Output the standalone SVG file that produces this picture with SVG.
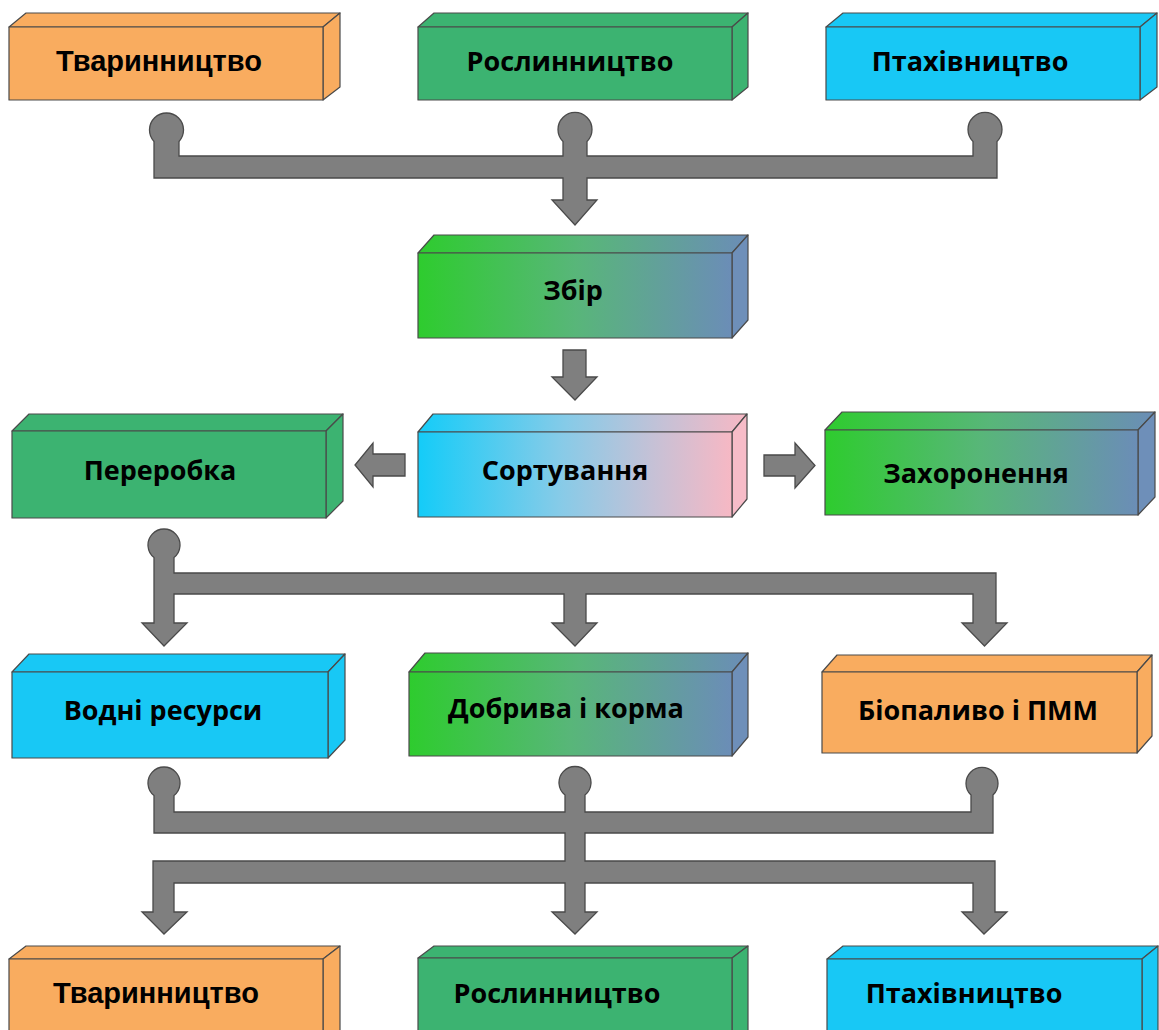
<svg xmlns="http://www.w3.org/2000/svg" width="1159" height="1030" viewBox="0 0 1159 1030">
  <defs>
    <linearGradient id="gGreenBlue" x1="0" y1="0" x2="1" y2="0">
      <stop offset="0" stop-color="#2ecc2e"/>
      <stop offset="0.5" stop-color="#58b679"/>
      <stop offset="1" stop-color="#6b8db7"/>
    </linearGradient>
    <linearGradient id="gSort" x1="0" y1="0" x2="1" y2="0">
      <stop offset="0" stop-color="#14ccf8"/>
      <stop offset="0.45" stop-color="#86cbe8"/>
      <stop offset="0.75" stop-color="#c6c1d6"/>
      <stop offset="1" stop-color="#f7b8c4"/>
    </linearGradient>
    <style>
      .face { stroke: #4a4a4a; stroke-width: 1.2; stroke-linejoin: round; }
      .orange .face { fill: #f9ac5f; }
      .green .face { fill: #3cb371; }
      .cyan .face { fill: #18c8f5; }
      .grad .face { fill: url(#gGreenBlue); }
      .grad .side { fill: #6e8fb9; }
      .sort .face { fill: url(#gSort); }
      .sort .side { fill: #f7bcc8; }
      .label { font-family: "Open Sans", "Noto Sans", "DejaVu Sans", sans-serif; font-weight: 700; font-size: 27px; fill: #000; text-anchor: middle; }
      .label.arial { font-family: "Liberation Sans", Arial, sans-serif; font-size: 29px; }
      .pipe { fill: #7f7f7f; stroke: #4a4a4a; stroke-width: 1.3; stroke-linejoin: miter; }
    </style>
  </defs>
  <rect width="1159" height="1030" fill="#ffffff"/>

  <!-- connectors -->
  <g id="connectors">
    <!-- sources merge into collection -->
    <path class="pipe" d="M154,141.5 A17,17 0 1 1 179,141.5 L179,156 L563,156 L563,141.5 A17,17 0 1 1 587,141.5 L587,156 L973,156 L973,141.5 A17,17 0 1 1 997,141.5 L997,178 L587,178 L587,200 L597,200 L575,225 L552,200 L563,200 L563,178 L154,178 Z"/>
    <!-- collection to sorting -->
    <path class="pipe" d="M563,350 L586,350 L586,377 L597,377 L575,400 L552,377 L563,377 Z"/>
    <!-- sorting to processing -->
    <path class="pipe" d="M405,454 L373,454 L373,443 L355,465 L373,487 L373,476 L405,476 Z"/>
    <!-- sorting to burial -->
    <path class="pipe" d="M764,455 L795,455 L795,443 L815,465.5 L795,488 L795,476 L764,476 Z"/>
    <!-- processing splits into three products -->
    <path class="pipe" d="M154,557.5 A16,16 0 1 1 174,557.5 L174,573 L996,573 L996,623 L1007,623 L984.5,646 L962,623 L973,623 L973,594 L586,594 L586,623 L597,623 L575,646 L552,623 L564,623 L564,594 L174,594 L174,623 L187,623 L164,646 L142,623 L154,623 Z"/>
    <!-- products return to the three branches -->
    <path class="pipe" d="M154,795.5 A16,16 0 1 1 174,795.5 L174,812 L565,812 L565,795 A16,16 0 1 1 585,795 L585,812 L971,812 L971,795 A16,16 0 1 1 993,795 L993,833 L585,833 L585,861 L995,861 L995,912 L1007,912 L984,934 L962,912 L973,912 L973,883 L585,883 L585,912 L597,912 L575,934 L552,912 L565,912 L565,883 L174,883 L174,912 L187,912 L164,934 L142,912 L153,912 L153,861 L565,861 L565,833 L154,833 Z"/>
  </g>

  <!-- top row: sources -->
  <g id="src-livestock" class="orange">
    <path class="face" d="M9,27 L26,13 L340,13 L323,27 Z"/>
    <path class="face side" d="M323,27 L340,13 L340,87 L323,100 Z"/>
    <rect class="face" x="9" y="27" width="314" height="73"/>
    <text class="label arial" x="159" y="71">Тваринництво</text>
  </g>
  <g id="src-crops" class="green">
    <path class="face" d="M418,27 L434,13 L748,13 L732,27 Z"/>
    <path class="face side" d="M732,27 L748,13 L748,87 L732,100 Z"/>
    <rect class="face" x="418" y="27" width="314" height="73"/>
    <text class="label" x="570" y="71">Рослинництво</text>
  </g>
  <g id="src-poultry" class="cyan">
    <path class="face" d="M826,27 L843,13 L1157,13 L1140,27 Z"/>
    <path class="face side" d="M1140,27 L1157,13 L1157,87 L1140,100 Z"/>
    <rect class="face" x="826" y="27" width="314" height="73"/>
    <text class="label" x="970" y="71">Птахівництво</text>
  </g>

  <!-- collection -->
  <g id="collect" class="grad">
    <path class="face" d="M418,253 L434,235 L748,235 L732,253 Z"/>
    <path class="face side" d="M732,253 L748,235 L748,320 L732,338 Z"/>
    <rect class="face" x="418" y="253" width="314" height="85"/>
    <text class="label" x="573" y="300">Збір</text>
  </g>

  <!-- sorting row -->
  <g id="process" class="green">
    <path class="face" d="M12,431 L29,414 L343,414 L326,431 Z"/>
    <path class="face side" d="M326,431 L343,414 L343,501 L326,518 Z"/>
    <rect class="face" x="12" y="431" width="314" height="87"/>
    <text class="label" x="160" y="480">Переробка</text>
  </g>
  <g id="sort" class="sort">
    <path class="face" d="M418,432 L433,414 L747,414 L732,432 Z"/>
    <path class="face side" d="M732,432 L747,414 L747,499 L732,517 Z"/>
    <rect class="face" x="418" y="432" width="314" height="85"/>
    <text class="label" x="565" y="480">Сортування</text>
  </g>
  <g id="burial" class="grad">
    <path class="face" d="M825,430 L842,412 L1155,412 L1138,430 Z"/>
    <path class="face side" d="M1138,430 L1155,412 L1155,497 L1138,515 Z"/>
    <rect class="face" x="825" y="430" width="313" height="85"/>
    <text class="label" x="976" y="483">Захоронення</text>
  </g>

  <!-- products -->
  <g id="water" class="cyan">
    <path class="face" d="M12,672 L29,654 L345,654 L328,672 Z"/>
    <path class="face side" d="M328,672 L345,654 L345,740 L328,758 Z"/>
    <rect class="face" x="12" y="672" width="316" height="86"/>
    <text class="label" x="163" y="720">Водні ресурси</text>
  </g>
  <g id="fertilizer" class="grad">
    <path class="face" d="M409,672 L425,653 L748,653 L732,672 Z"/>
    <path class="face side" d="M732,672 L748,653 L748,737 L732,756 Z"/>
    <rect class="face" x="409" y="672" width="323" height="84"/>
    <text class="label" x="566" y="718">Добрива і корма</text>
  </g>
  <g id="biofuel" class="orange">
    <path class="face" d="M822,672 L837,655 L1152,655 L1137,672 Z"/>
    <path class="face side" d="M1137,672 L1152,655 L1152,736 L1137,753 Z"/>
    <rect class="face" x="822" y="672" width="315" height="81"/>
    <text class="label" x="978" y="720">Біопаливо і ПММ</text>
  </g>

  <!-- bottom row: consumers -->
  <g id="dst-livestock" class="orange">
    <path class="face" d="M9,959 L26,946 L340,946 L323,959 Z"/>
    <path class="face side" d="M323,959 L340,946 L340,1040 L323,1053 Z"/>
    <rect class="face" x="9" y="959" width="314" height="94"/>
    <text class="label arial" x="156" y="1003">Тваринництво</text>
  </g>
  <g id="dst-crops" class="green">
    <path class="face" d="M418,958 L434,946 L748,946 L732,958 Z"/>
    <path class="face side" d="M732,958 L748,946 L748,1040 L732,1053 Z"/>
    <rect class="face" x="418" y="958" width="314" height="95"/>
    <text class="label" x="557" y="1003">Рослинництво</text>
  </g>
  <g id="dst-poultry" class="cyan">
    <path class="face" d="M827,959 L843,946 L1158,946 L1142,959 Z"/>
    <path class="face side" d="M1142,959 L1158,946 L1158,1040 L1142,1053 Z"/>
    <rect class="face" x="827" y="959" width="315" height="94"/>
    <text class="label" x="964" y="1003">Птахівництво</text>
  </g>
</svg>
